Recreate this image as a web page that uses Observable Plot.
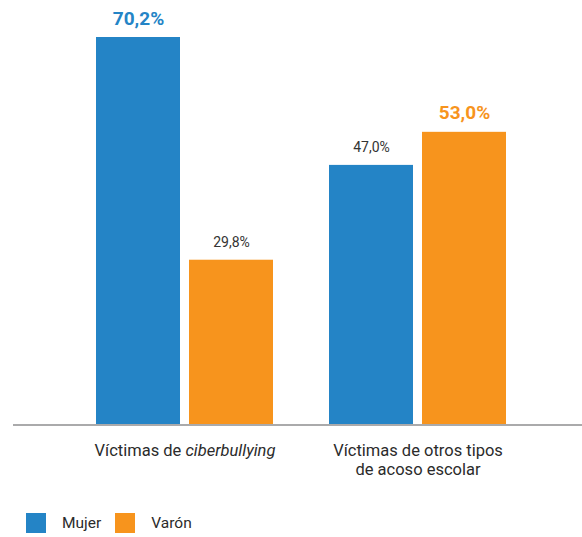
<!DOCTYPE html>
<html><head><meta charset="utf-8">
<script src="https://cdn.jsdelivr.net/npm/d3@7"></script>
<script src="https://cdn.jsdelivr.net/npm/@observablehq/plot@0.6"></script>
<style>
body{margin:0;background:#fff;font-family:Roboto,sans-serif;}
#legend{display:flex;align-items:center;margin:23px 0 0 26px;font-size:15.5px;color:#2b2b2b;height:20px}
.sw{width:20px;height:20px;display:inline-block;margin-right:16px}
</style></head><body><div id="chart"></div><div id="legend"></div>
<script>
const categories = ["Víctimas de ciberbullying", "Víctimas de otros tipos\nde acoso escolar"];
const sexes = ["Mujer", "Varón"];
const mujer = [70.2, 47.0];
const varon = [29.8, 53.0];
const colors = ["#2484c6", "#f7941d"];

const rows = [];
categories.forEach((c, i) => {
  const vals = [mujer[i], varon[i]];
  const mx = Math.max(...vals);
  sexes.forEach((s, j) => rows.push({cat: c, sex: s, value: vals[j], top: vals[j] === mx}));
});
const fmt = v => v.toFixed(1).replace(".", ",") + "%";

const chart = Plot.plot({
  width: 582, height: 490,
  marginTop: 37, marginBottom: 66, marginLeft: 13, marginRight: 0,
  style: {fontFamily: "Roboto, sans-serif", fontSize: "15px", color: "#2b2b2b", background: "#fff"},
  fx: {domain: categories, paddingInner: 0.2403, paddingOuter: 0.341, align: 0.522, axis: null, label: null},
  x: {domain: sexes, paddingInner: 0.0968, paddingOuter: 0, axis: null},
  y: {domain: [0, d3.max(rows, d => d.value)], axis: null},
  color: {domain: sexes, range: colors},
  marks: [
    Plot.barY(rows, {fx: "cat", x: "sex", y: "value", fill: "sex"}),
    Plot.axisFx({anchor: "bottom", label: null, tickSize: 0, tickPadding: 17, fontSize: 16.5, lineHeight: 1.2, fill: "#2b2b2b"}),
    Plot.text(rows.filter(d => !d.top), {fx: "cat", x: "sex", y: "value", text: d => fmt(d.value), dy: -18, fill: "#333", fontSize: 14}),
    Plot.text(rows.filter(d => d.top), {fx: "cat", x: "sex", y: "value", text: d => fmt(d.value), dy: -19, fill: "sex", fontSize: 19, fontWeight: "bold"})
  ]
});
document.getElementById("chart").appendChild(chart);

// baseline across the full width
const y0 = chart.scale("y").apply(0);
const ns = "http://www.w3.org/2000/svg";
const line = document.createElementNS(ns, "line");
line.setAttribute("x1", 13); line.setAttribute("x2", 582);
line.setAttribute("y1", y0 + 1); line.setAttribute("y2", y0 + 1);
line.setAttribute("stroke", "#aaaaab"); line.setAttribute("stroke-width", 2);
chart.appendChild(line);

// italic "ciberbullying"
chart.querySelectorAll("text").forEach(t => {
  if (t.textContent === categories[0]) {
    t.textContent = "";
    t.setAttribute("style", "white-space:pre");
    const a = document.createElementNS(ns, "tspan"); a.textContent = "Víctimas de ";
    const b = document.createElementNS(ns, "tspan"); b.textContent = "ciberbullying"; b.setAttribute("font-style", "italic");
    t.appendChild(a); t.appendChild(b);
  }
});

const lg = document.getElementById("legend");
sexes.forEach((s, i) => {
  const sw = document.createElement("span"); sw.className = "sw"; sw.style.background = colors[i];
  const lb = document.createElement("span"); lb.textContent = s;
  if (i === 0) lb.style.marginRight = "14px";
  lg.appendChild(sw); lg.appendChild(lb);
});
</script></body></html>
